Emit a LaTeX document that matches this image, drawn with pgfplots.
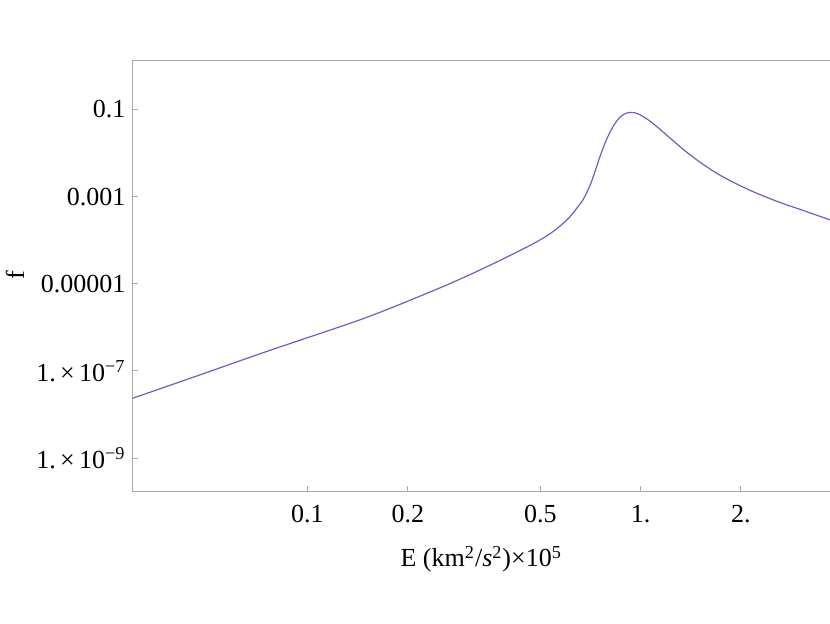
\documentclass[border=0pt]{standalone}
\usepackage{fontspec}
\setmainfont{Liberation Serif}
\usepackage{pgfplots}
\pgfplotsset{compat=1.18}
\definecolor{curvecol}{RGB}{100,100,190}
\definecolor{framecol}{RGB}{170,170,170}

\begin{document}
\begin{tikzpicture}
\begin{axis}[
  scale only axis,
  width=348.5pt, height=215.35pt,
  xmode=log, ymode=log,
  xmin=0.02986, xmax=3.70,
  ymin=1.75e-10, ymax=1.36,
  xtick={0.1,0.2,0.5,1,2},
  xticklabels={0.1,0.2,0.5,1.,2.},
  ytick={1e-9,1e-7,1e-5,1e-3,1e-1},
  yticklabels={1.\,×\,10\textsuperscript{−9},1.\,×\,10\textsuperscript{−7},0.00001,0.001,0.1},
  xminorticks=false, yminorticks=false,
  tick pos=left,
  tick align=inside,
  major tick length=2.5pt,
  axis line style={framecol, line width=0.5pt},
  every tick/.style={framecol, line width=0.5pt},
  tick label style={font=\fontsize{13}{15}\selectfont},
  xticklabel style={yshift=-3.5pt},
  label style={font=\fontsize{13}{15}\selectfont},
  xlabel={E (km\textsuperscript{2}/\textit{s}\textsuperscript{2})×10\textsuperscript{5}},
  ylabel={f},
  xlabel style={at={(axis description cs:0.5,-0.158)}, anchor=center},
  ylabel style={at={(axis description cs:-0.1686,0.5)}, anchor=center},
]
% below the kink
\addplot[curvecol, line width=0.6pt, smooth, tension=0.5] coordinates {
(0.02986,2.350e-8)
(0.04655,7.64e-8)
(0.07727,2.97e-7)
(0.1473,1.589e-6)
(0.2336,6.486e-6)
(0.2941,1.387e-5)
(0.3705,3.170e-5)
(0.4665,7.656e-5)
(0.5356,1.422e-4)
(0.6066,3.141e-4)
(0.6705,8.26e-4)
};
% resonance peak and tail
\addplot[curvecol, line width=0.6pt, smooth, tension=0.5] coordinates {
(0.6705,8.26e-4)
(0.6869,1.176e-3)
(0.7096,2.067e-3)
(0.7362,4.651e-3)
(0.7638,1.064e-2)
(0.7925,2.155e-2)
(0.8299,4.285e-2)
(0.8690,6.773e-2)
(0.9060,8.222e-2)
(0.9421,8.519e-2)
(0.9754,8.083e-2)
(1.0209,6.773e-2)
(1.0693,5.293e-2)
(1.1199,3.992e-2)
(1.2003,2.525e-2)
(1.2863,1.597e-2)
(1.3462,1.183e-2)
(1.511,6.058e-3)
(1.6960,3.386e-3)
(1.902,2.104e-3)
(2.1355,1.378e-3)
(2.397,9.52e-4)
(2.688,6.809e-4)
(3.017,5.049e-4)
(3.7007,2.922e-4)
};
\end{axis}
\pgfresetboundingbox
\path[use as bounding box] ([xshift=-66.25pt,yshift=-66.15pt]current axis.south west) rectangle ([yshift=30pt]current axis.north east);
\end{tikzpicture}
\end{document}
